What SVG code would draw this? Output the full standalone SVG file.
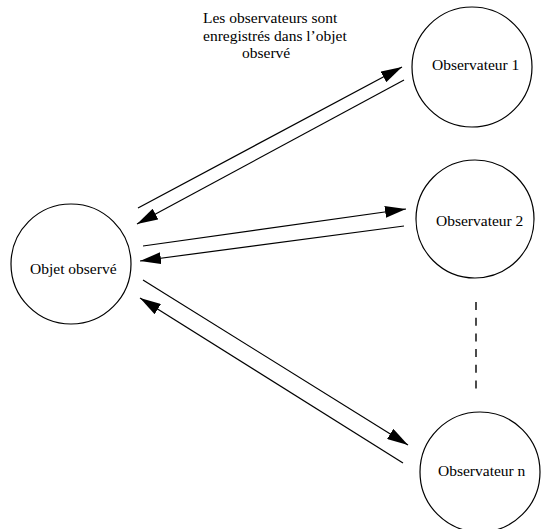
<svg xmlns="http://www.w3.org/2000/svg" width="541" height="529" viewBox="0 0 541 529">
  <style>
    .node { fill: #ffffff; stroke: #000000; stroke-width: 1.2; }
    .label { font-family: 'Liberation Serif', 'DejaVu Serif', serif; font-size: 15.5px; fill: #000000; }
    .link { stroke: #000000; stroke-width: 1.2; fill: none; marker-end: url(#head); }
    .dash { stroke: #000000; stroke-width: 1.4; stroke-dasharray: 8 7.7; }
  </style>
  <defs>
    <marker id="head" markerUnits="userSpaceOnUse" markerWidth="22" markerHeight="12" refX="21" refY="6" orient="auto">
      <path d="M0,0 L21,6 L0,12 Z" fill="#000000"/>
    </marker>
  </defs>
  <rect width="541" height="529" fill="#ffffff"/>

  <!-- note above the links -->
  <text class="label">
    <tspan x="203" y="23">Les observateurs sont</tspan>
    <tspan x="203" y="41">enregistrés dans l’objet</tspan>
    <tspan x="242" y="58">observé</tspan>
  </text>

  <g id="objet">
    <circle class="node" cx="71" cy="264" r="60"/>
    <text class="label" x="30" y="274">Objet observé</text>
  </g>
  <g id="observateur1">
    <circle class="node" cx="472" cy="67" r="60"/>
    <text class="label" x="432" y="70">Observateur 1</text>
  </g>
  <g id="observateur2">
    <circle class="node" cx="475" cy="219" r="59"/>
    <text class="label" x="436" y="226">Observateur 2</text>
  </g>
  <g id="observateurn">
    <circle class="node" cx="480" cy="472" r="60"/>
    <text class="label" x="438" y="476">Observateur n</text>
  </g>

  <g id="connectors">
    <line class="link" x1="138" y1="208" x2="402" y2="67"/>
    <line class="link" x1="404" y1="80" x2="137" y2="224"/>
    <line class="link" x1="143" y1="246" x2="406" y2="209"/>
    <line class="link" x1="404" y1="226" x2="140" y2="261"/>
    <line class="link" x1="143" y1="280" x2="408" y2="445"/>
    <line class="link" x1="403" y1="463" x2="140" y2="298"/>
    <line class="dash" x1="476" y1="302" x2="476" y2="390"/>
  </g>
</svg>
